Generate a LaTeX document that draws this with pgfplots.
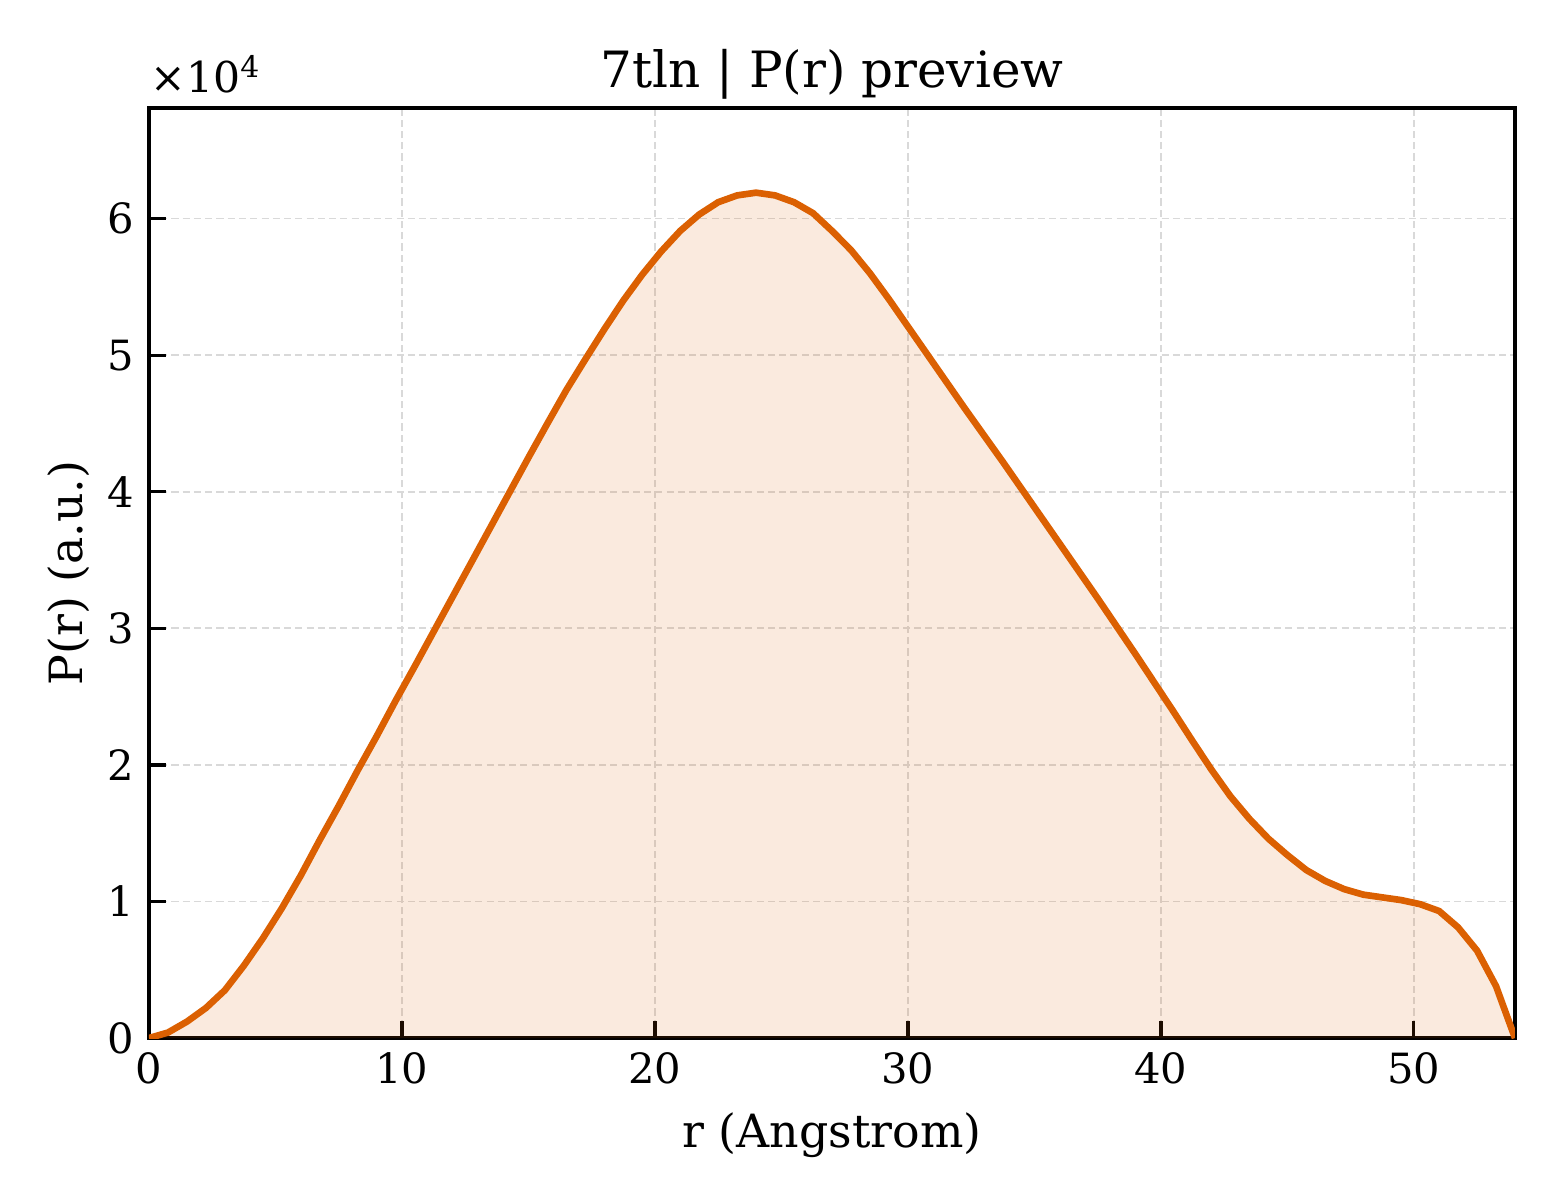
\documentclass[border=0pt]{standalone}
\usepackage{fontspec}
\setmainfont{DejaVu Serif}
\usepackage{pgfplots}
\usepackage{pgfplotstable}
\pgfplotsset{compat=1.18}

\definecolor{prline}{RGB}{219,96,2}

% r (Angstrom), P(r)
\pgfplotstableread{
r p
0.00 0
0.75 400
1.50 1200
2.25 2200
3.00 3500
3.75 5300
4.50 7300
5.25 9500
6.00 11900
6.75 14500
7.50 17000
8.25 19600
9.00 22100
9.75 24700
10.50 27200
11.25 29750
12.00 32300
12.75 34850
13.50 37400
14.25 39950
15.00 42500
15.75 45000
16.50 47450
17.25 49700
18.00 51900
18.75 54000
19.50 55900
20.25 57600
21.00 59100
21.75 60300
22.50 61200
23.25 61700
24.00 61900
24.75 61700
25.50 61200
26.25 60400
27.00 59100
27.75 57700
28.50 56000
29.25 54100
30.00 52100
30.75 50100
31.50 48100
32.25 46100
33.00 44150
33.75 42200
34.50 40200
35.25 38200
36.00 36200
36.75 34200
37.50 32200
38.25 30150
39.00 28100
39.75 26000
40.50 23900
41.25 21750
42.00 19650
42.75 17700
43.50 16050
44.25 14600
45.00 13400
45.75 12300
46.50 11500
47.25 10900
48.00 10500
48.75 10300
49.50 10100
50.25 9800
51.00 9300
51.75 8100
52.50 6400
53.25 3800
54.00 0
}\prdata

\begin{document}
\begin{tikzpicture}
\begin{axis}[
  name=ax,
  scale only axis,
  width=327.84pt, height=223.2pt,
  xmin=0, xmax=54, ymin=0, ymax=68100,
  xtick={0,10,...,50},
  ytick={0,10000,20000,30000,40000,50000,60000},
  yticklabels={0,1,2,3,4,5,6},
  scaled y ticks=false,
  tick pos=left,
  tick align=inside,
  major tick length=4pt,
  tick style={line width=0.8pt, black},
  axis line style={line width=0.96pt},
  grid=major,
  grid style={line width=0.4pt, black!15, dash pattern=on 1.7pt off 1pt},
  /pgf/number format/assume math mode=true,
  tick label style={font=\fontsize{10}{12}\selectfont},
  label style={font=\fontsize{11}{13}\selectfont},
  ylabel style={yshift=-2.4pt},
  title style={font=\fontsize{12}{14}\selectfont, at={(0.5,1)}, anchor=base, yshift=-1.2pt},
  title={7tln | P(r) preview},
  xlabel={r (Angstrom)},
  ylabel={P(r) (a.u.)},
]
\addplot[draw=none, fill=prline, fill opacity=0.13] table[x=r, y=p] {\prdata} \closedcycle;
\addplot[prline, line width=1.6pt, line join=round] table[x=r, y=p] {\prdata};
\end{axis}
\node[anchor=base west, inner sep=0pt, font=\fontsize{10.2}{12}\selectfont] at ([xshift=0.2pt, yshift=3.6pt]ax.north west) {×10\textsuperscript{4}};
\path[use as bounding box] ([xshift=-35.76pt, yshift=-38.88pt]ax.south west) rectangle ([xshift=10.8pt, yshift=25.92pt]ax.north east);
\end{tikzpicture}
\end{document}
